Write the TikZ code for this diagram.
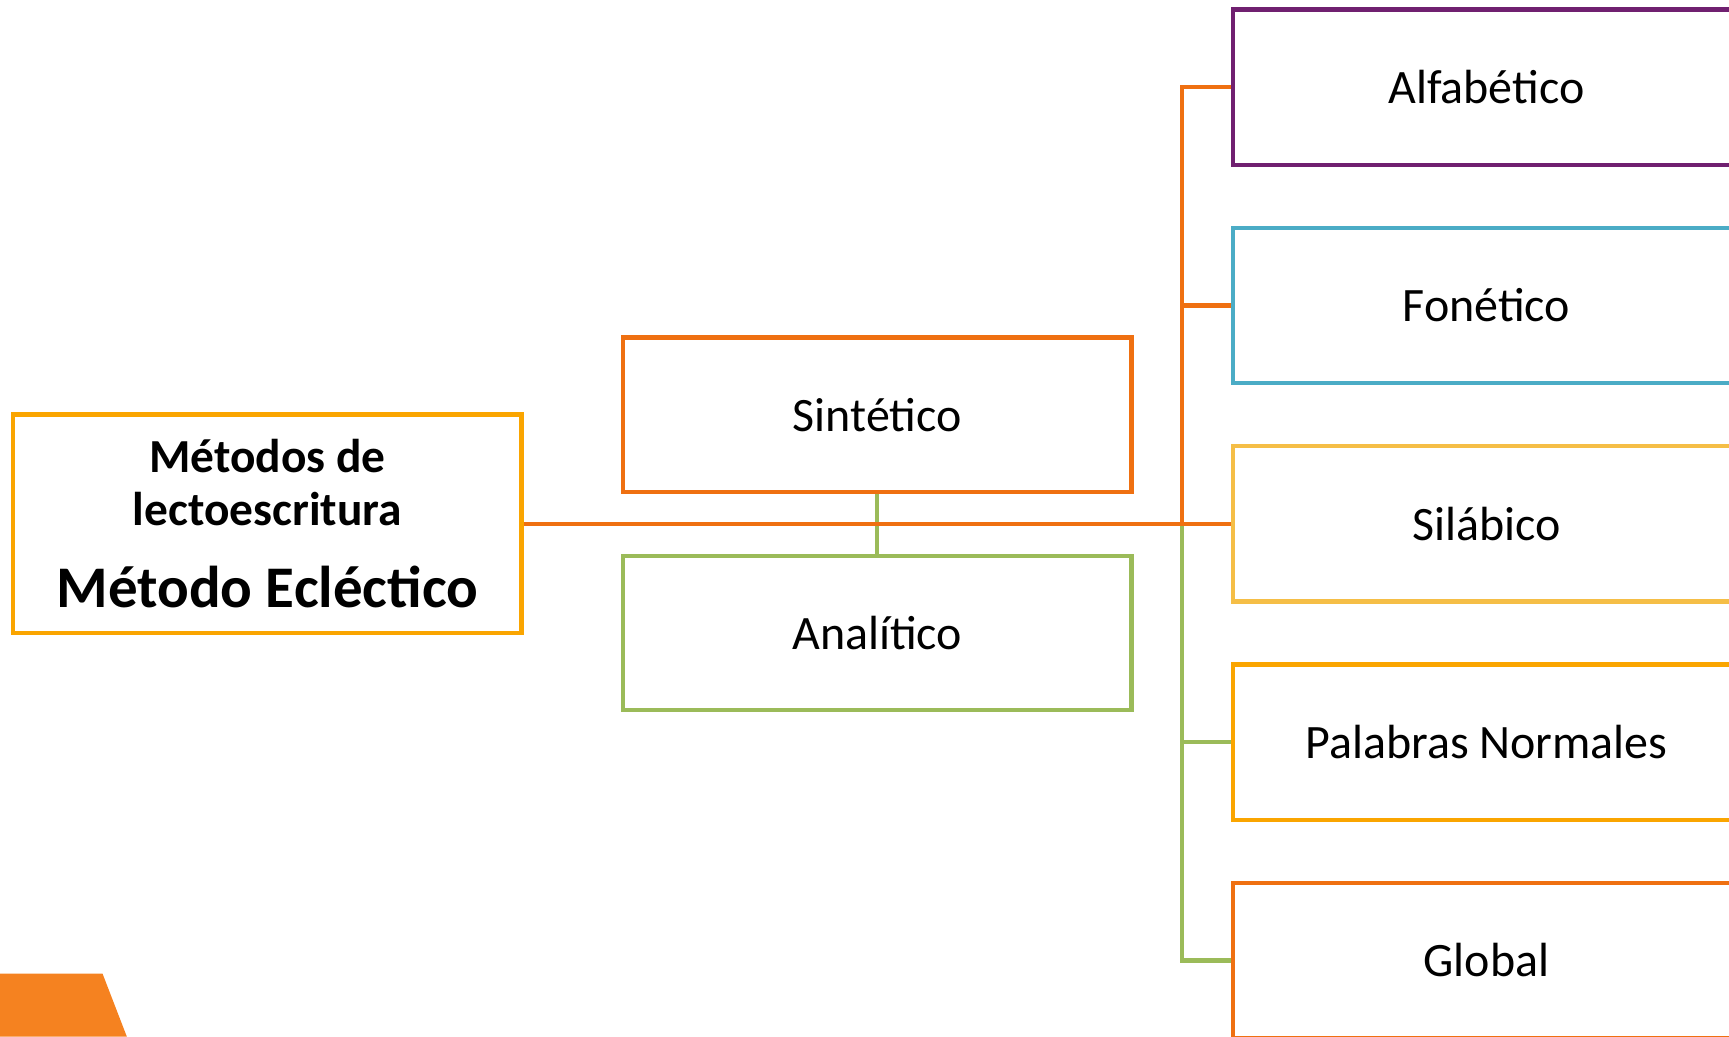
\documentclass[tikz,border=0pt]{standalone}
\usepackage{fontspec}
\setmainfont{Carlito}
\usetikzlibrary{positioning}

\definecolor{mebOrange}{RGB}{250,165,0}
\definecolor{darkOrange}{RGB}{239,112,17}
\definecolor{leafGreen}{RGB}{155,187,89}
\definecolor{plumPurple}{RGB}{112,32,112}
\definecolor{skyBlue}{RGB}{75,172,198}
\definecolor{sunYellow}{RGB}{245,190,70}
\definecolor{cornerOrange}{RGB}{245,130,32}

\begin{document}
\begin{tikzpicture}[
  x=1pt, y=-1pt,
  box/.style={draw, line width=4pt, fill=white, minimum width=461pt, minimum height=140pt, inner sep=0pt, font=\fontsize{43.5}{50}\selectfont},
  rbox/.style={box, minimum width=460pt, minimum height=141pt},
  mebox/.style={box, draw=mebOrange, minimum height=198pt, align=center, font=\fontsize{43}{48}\selectfont\bfseries},
  link/.style={line width=4pt},
  node distance=53pt
]
\useasboundingbox (0,0) rectangle (1568,940);
\clip (0,0) rectangle (1568,940);

% Corner decoration
\fill[cornerOrange] (0,883) -- (93,883) -- (115,940) -- (0,940) -- cycle;

% Root
\node[mebox] (meb) at (242.5,475) {Métodos de\\lectoescritura\\[26pt]{\fontsize{53.5}{48}\selectfont Método Ecléctico}};

% Middle column
\node[box, draw=darkOrange] (sint) at (795.5,376) {Sintético};
\node[box, draw=leafGreen] (anal) at (795.5,574) {Analítico};

% Right column
\node[rbox, draw=plumPurple] (alf) at (1348,79) {Alfabético};
\node[rbox, draw=skyBlue, below=of alf] (fon) {Fonético};
\node[rbox, draw=sunYellow, below=of fon] (sil) {Silábico};
\node[rbox, draw=mebOrange, below=of sil] (pal) {Palabras Normales};
\node[rbox, draw=darkOrange, below=of pal] (glo) {Global};

% Trunk
\coordinate (trunk) at (1072,0 |- sil.west);

% Green branches
\draw[link, leafGreen] (sint.south) -- (anal.north);
\draw[link, leafGreen] (pal.west) -| (trunk);
\draw[link, leafGreen] (glo.west) -| (trunk);

% Orange branches
\draw[link, darkOrange] (alf.west) -| (trunk);
\draw[link, darkOrange] (fon.west) -| (trunk);
\draw[link, darkOrange] (meb.east) -- (meb.east -| sil.west);

\end{tikzpicture}
\end{document}
